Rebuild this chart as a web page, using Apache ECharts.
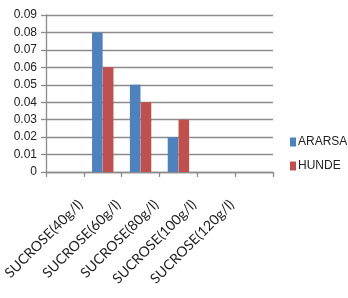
<!DOCTYPE html>
<html>
<head>
<meta charset="utf-8">
<script src="https://cdn.jsdelivr.net/npm/echarts@6/dist/echarts.min.js"></script>
<style>html,body{margin:0;padding:0;background:#fff;}#c{width:348px;height:298px;}</style>
</head>
<body>
<div id="c"></div>
<script>
const categories = ['SUCROSE(40g/l)', 'SUCROSE(60g/l)', 'SUCROSE(80g/l)', 'SUCROSE(100g/l)', 'SUCROSE(120g/l)', ''];
const ararsa = [0, 0.08, 0.05, 0.02, 0, 0];
const hunde = [0, 0.06, 0.04, 0.03, 0, 0];
const seriesNames = ['ARARSA', 'HUNDE'];

const chart = echarts.init(document.getElementById('c'), null, {renderer: 'canvas'});
const font = '"Liberation Sans", Arial, sans-serif';
chart.setOption({
  animation: false,
  backgroundColor: '#fff',
  grid: {left: 46, right: 75, top: 15, bottom: 126, containLabel: false},
  legend: {
    orient: 'vertical', left: 285, top: 131, itemWidth: 6, itemHeight: 9, itemGap: 12,
    icon: 'rect',
    textStyle: {fontFamily: font, fontSize: 12, color: '#222', padding: [0,0,0,-3]},
    data: seriesNames
  },
  xAxis: {
    type: 'category', data: categories,
    axisLine: {lineStyle: {color: '#8c8c8c', width: 1.3}},
    axisTick: {show: true, length: 5, interval: 0, lineStyle: {color: '#8c8c8c', width: 1.3}},
    axisLabel: {interval: 0, rotate: 45, margin: 46, padding: [0, -22, 0, 0],
      fontFamily: 'Lato, sans-serif', fontSize: 14, color: '#222'}
  },
  yAxis: {
    type: 'value', min: 0, max: 0.09, interval: 0.01,
    axisLine: {show: true, lineStyle: {color: '#8c8c8c', width: 1.3}},
    axisTick: {show: true, length: 5, lineStyle: {color: '#8c8c8c', width: 1.3}},
    splitLine: {lineStyle: {color: '#8c8c8c', width: 1.3}},
    axisLabel: {margin: 9, fontFamily: font, fontSize: 12, color: '#222',
      formatter: v => String(Number(v.toFixed(2)))}
  },
  series: [
    {name: seriesNames[0], type: 'bar', data: ararsa, barWidth: '28%', barGap: '2%', itemStyle: {color: '#4F81BD'}},
    {name: seriesNames[1], type: 'bar', data: hunde, barWidth: '28%', itemStyle: {color: '#C0504D'}}
  ]
});
</script>
</body>
</html>
